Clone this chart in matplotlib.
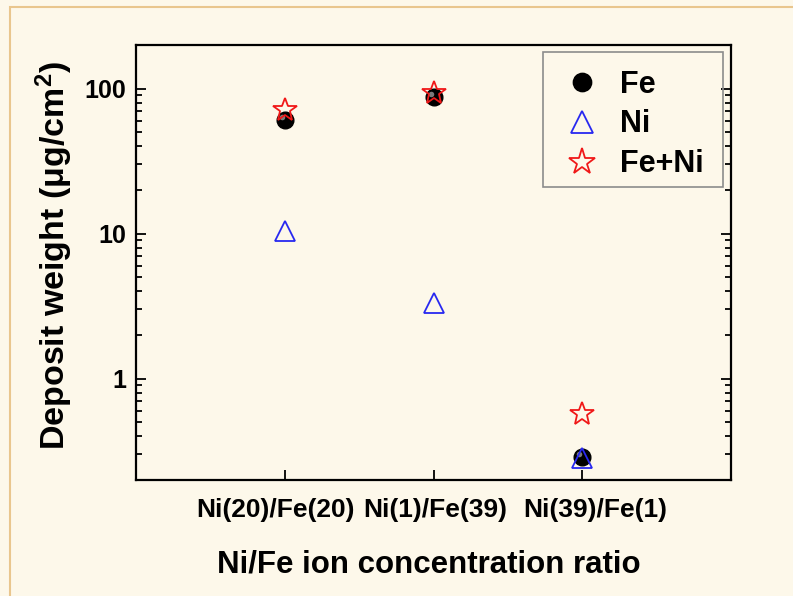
import numpy as np
import matplotlib
matplotlib.use("Agg")
import matplotlib.pyplot as plt
from matplotlib.patches import Rectangle
from matplotlib.transforms import ScaledTranslation

#%%
plt.rcParams['font.family'] = ['Liberation Sans', 'DejaVu Sans']
plt.rcParams['font.weight'] = 'bold'
plt.rcParams['axes.labelweight'] = 'bold'
plt.rcParams['mathtext.fontset'] = 'custom'
plt.rcParams['mathtext.bf'] = 'Liberation Sans:bold'
plt.rcParams['mathtext.rm'] = 'Liberation Sans:bold'
plt.rcParams['mathtext.default'] = 'bf'

razoes = ["Ni(20)/Fe(20)", "Ni(1)/Fe(39)", "Ni(39)/Fe(1)"]
pos = [1, 2, 3]
fe = [61, 88, 0.29]
ni = [10.4, 3.35, 0.285]
fe_ni = [71, 93, 0.57]

bg = "#FDF8EA"
W, H = 793, 596

#%%
fig = plt.figure(figsize=(W/100, H/100), dpi=100, facecolor=bg)
fig.patches.append(Rectangle((10/W, -0.1), 1.2, 0.1 + (H-7)/H,
                             transform=fig.transFigure, fill=False,
                             edgecolor="#E9C68E", linewidth=1.5))
ax = fig.add_axes([136/W, 116/H, 595/W, 435/H])
ax.set_facecolor(bg)

ax.plot(pos, fe, ls="none", marker="o", ms=12, mfc="black", mec="black", label="Fe")
# brilho da esfera
hl = ax.transData + ScaledTranslation(-2/72, 2/72, fig.dpi_scale_trans)
ax.plot(pos, fe, ls="none", marker="o", ms=4, mfc="#9a9a9a", mec="none",
        alpha=0.8, transform=hl)
ax.plot(pos, ni, ls="none", marker="^", ms=14, mfc="none", mec="#2828F0",
        mew=1.3, label="Ni")
ax.plot(pos, fe_ni, ls="none", marker="*", ms=18, mfc="none", mec="#F01818",
        mew=1.3, label="Fe+Ni")

ax.set_yscale("log")
ax.set_ylim(0.2, 200)
ax.set_xlim(0, 4)
ax.set_xticks(pos)
ax.set_xticklabels(razoes)
ax.set_yticks([1, 10, 100])
ax.set_yticklabels(["1", "10", "100"])

for s in ax.spines.values():
    s.set_linewidth(1.6)
ax.tick_params(axis="y", which="both", direction="in", right=True, width=1.3)
ax.tick_params(axis="y", which="major", length=7, labelsize=18, pad=7)
ax.tick_params(axis="y", which="minor", length=4)
ax.tick_params(axis="x", which="both", direction="in", length=7, width=1.3,
               labelsize=19, pad=13)

# rotulos do eixo x um pouco mais espalhados
for lab, dx in zip(ax.get_xticklabels(), [-9, 2, 13]):
    lab.set_transform(lab.get_transform() + ScaledTranslation(dx/100, 0, fig.dpi_scale_trans))

ax.set_xlabel("Ni/Fe ion concentration ratio", fontsize=22.5, labelpad=20)
ax.xaxis.label.set_x(0.492)
ax.set_ylabel("Deposit weight (μg/cm$^2$)", fontsize=24.5, labelpad=7)
ax.yaxis.label.set_y(0.515)

# legenda com moldura propria
fig.patches.append(Rectangle((543/W, 1 - 187/H), 180/W, 135/H,
                             transform=fig.transFigure, fill=False,
                             edgecolor="#8c8c8c", linewidth=1.2, zorder=5))
leg = ax.legend(loc="upper left", bbox_to_anchor=(543/W, 1 - 52/H),
                bbox_transform=fig.transFigure, borderaxespad=0, fontsize=22,
                frameon=False, handletextpad=0.54, borderpad=0.58,
                labelspacing=0.32, handlelength=1.4, markerscale=1.1)

plt.savefig("out.png", dpi=100, facecolor=bg)
